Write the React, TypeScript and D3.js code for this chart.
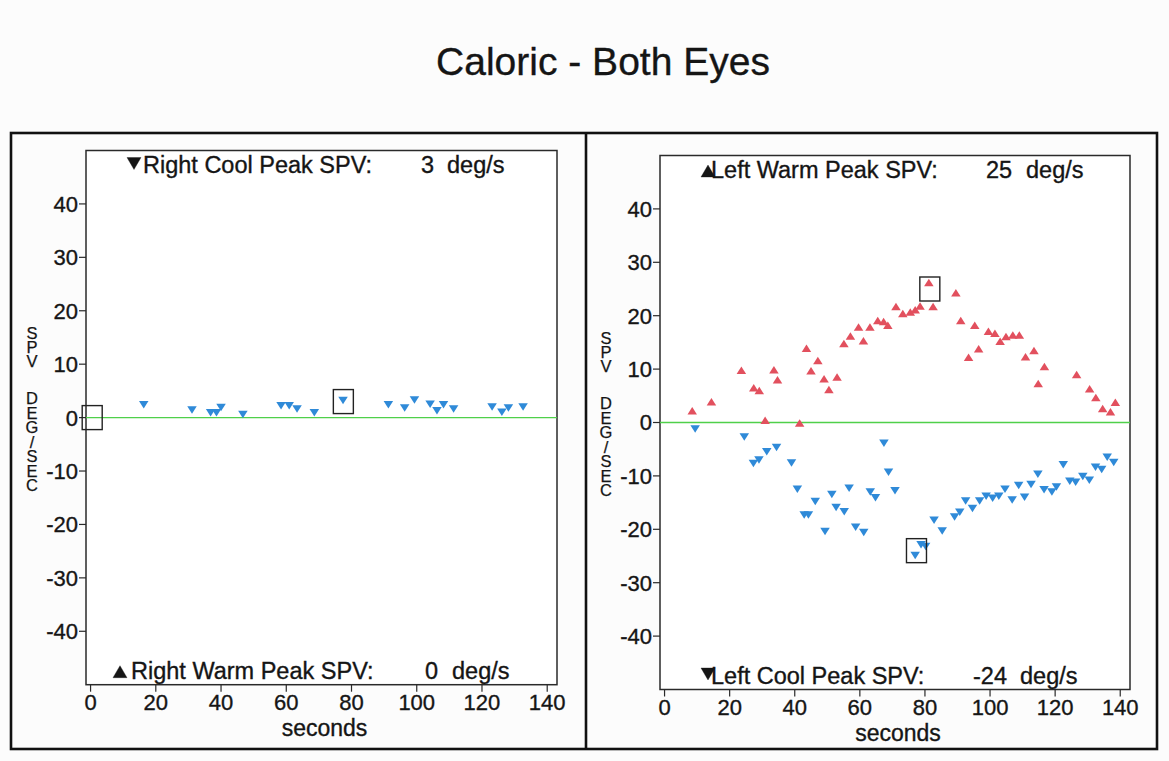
import React from 'react'
import * as d3 from 'd3'

const W = 1169, H = 761
const FONT = '"Liberation Sans", Arial, Helvetica, sans-serif'
const BLUE = '#2f8ad8'
const RED = '#e2505e'
const GREEN = '#4fd04a'
const INK = '#151515'

const xTicks = [0, 20, 40, 60, 80, 100, 120, 140]
const yTicks = [-40, -30, -20, -10, 0, 10, 20, 30, 40]

// right eye, cool irrigation (left panel)
const rightCoolTime = [16.3, 31.1, 36.8, 38.6, 40.0, 46.7, 58.4, 60.9, 63.3, 68.6, 77.4, 91.3, 96.3, 99.3, 104.1, 106.2, 108.2, 111.3, 123.1, 126.1, 128.1, 132.6]
const rightCoolSpv = [2.4, 1.4, 0.9, 0.9, 1.9, 0.6, 2.2, 2.2, 1.6, 0.9, 3.2, 2.4, 1.8, 3.3, 2.5, 1.3, 2.4, 1.6, 2.0, 1.0, 1.8, 2.0]

// left eye, warm irrigation (right panel, red)
const leftWarmTime = [8.5, 14.4, 23.6, 27.4, 29.1, 30.9, 33.6, 34.7, 41.5, 43.6, 45.0, 47.1, 49.0, 50.5, 53.0, 55.1, 57.1, 59.6, 61.1, 63.1, 65.5, 67.3, 68.6, 71.1, 73.2, 75.5, 77.0, 78.5, 81.2, 82.5, 89.5, 91.0, 93.4, 95.3, 96.5, 99.5, 101.5, 103.1, 104.9, 107.0, 109.0, 110.9, 113.5, 114.8, 116.7, 126.6, 130.6, 132.5, 134.6, 137.0, 138.5]
const leftWarmSpv = [2.2, 3.9, 9.8, 6.5, 6.0, 0.4, 9.9, 8.0, -0.1, 13.9, 9.7, 11.6, 8.2, 6.2, 8.5, 14.8, 16.2, 17.9, 15.3, 17.9, 19.1, 18.9, 18.2, 21.7, 20.4, 20.7, 21.1, 21.8, 26.2, 21.7, 24.3, 19.1, 12.2, 18.2, 13.8, 17.1, 16.7, 15.2, 16.1, 16.4, 16.4, 12.3, 13.5, 7.3, 10.5, 9.0, 6.3, 4.7, 2.6, 2.0, 3.8]

// left eye, cool irrigation (right panel, blue)
const leftCoolTime = [9.4, 24.5, 27.3, 29.0, 31.4, 34.4, 39.0, 40.8, 42.9, 44.2, 46.3, 49.3, 51.4, 52.7, 55.2, 56.7, 58.7, 61.2, 63.2, 64.8, 67.4, 68.8, 70.8, 77.0, 78.8, 80.2, 82.8, 85.3, 89.1, 90.7, 92.5, 94.6, 96.8, 98.8, 100.8, 102.7, 104.6, 106.8, 108.8, 110.6, 112.6, 114.7, 116.6, 119.0, 120.4, 122.5, 124.5, 126.3, 128.5, 130.5, 132.4, 134.3, 136.0, 138.0]
const leftCoolSpv = [-1.2, -2.7, -7.7, -7.0, -5.5, -4.7, -7.6, -12.5, -17.3, -17.3, -14.8, -20.4, -13.5, -15.9, -16.7, -12.3, -19.6, -20.6, -13.0, -14.1, -3.9, -9.3, -12.8, -24.9, -22.9, -23.2, -18.3, -20.3, -17.7, -16.8, -14.7, -16.1, -14.7, -13.8, -14.2, -13.8, -12.5, -14.5, -11.8, -14.0, -11.6, -9.7, -12.6, -13.0, -12.1, -7.9, -11.0, -11.2, -10.1, -10.8, -8.4, -8.8, -6.5, -7.5]

// peak values (time, deg/s) as boxed on the plot
const rightCoolPeak = [77.5, 3]
const rightWarmPeak = [0.5, 0]
const leftWarmPeak = [81.5, 25]
const leftCoolPeak = [77.4, -24]

const triPath = (w, h, up) => up
    ? `M0,${-h / 2}L${w / 2},${h / 2}L${-w / 2},${h / 2}Z`
    : `M${-w / 2},${-h / 2}L${w / 2},${-h / 2}L0,${h / 2}Z`

// scanned print looks a bit heavier than the plain font
const inkText = { fontFamily: FONT, fill: INK, stroke: INK, strokeWidth: 0.35 }

const Markers = ({ x, y, time, spv, up, color }) => (
    <g fill={color}>
        {time.map((t, i) => (
            <path key={i} d={triPath(9.5, 7.5, up)} transform={`translate(${x(t)},${y(spv[i])})`} />
        ))}
    </g>
)

const PeakLabel = ({ label, baseline }) => {
    const { up, glyphX, text, textX, value, valueX, unitX } = label
    const gy = up ? baseline - 7 : baseline - 9.5
    return (
        <g {...inkText} fontSize={23.5}>
            <path d={triPath(14, 12, up)} transform={`translate(${glyphX},${gy})`} />
            <text x={textX} y={baseline}>{text}</text>
            <text x={valueX} y={baseline}>{value}</text>
            <text x={unitX} y={baseline}>deg/s</text>
        </g>
    )
}

// letters stacked upright, one word per element
const StackedText = ({ x, y, text, pitch }) => {
    const fs = 16.5
    return (
        <text {...inkText} strokeWidth={0.25} fontSize={fs} x={x} y={y} textAnchor="middle"
            style={{ writingMode: 'vertical-rl', textOrientation: 'upright', letterSpacing: `${pitch - fs}px` }}>
            {text}
        </text>
    )
}

const Panel = ({ box, series, peaks, topLabel, bottomLabel }) => {
    const x = d3.scaleLinear().domain([-1.4, 143]).range([box.left, box.right])
    const y = d3.scaleLinear().domain([-50, 50]).range([box.bottom, box.top])
    const y0 = y(0)
    const axisX = box.left - 53

    return (
        <g>
            <rect x={box.left} y={box.top} width={box.right - box.left} height={box.bottom - box.top}
                fill="#fff" stroke="#2a2a2a" strokeWidth={1.5} />
            <line x1={box.left} x2={box.right} y1={y0} y2={y0} stroke={GREEN} strokeWidth={1.4} />

            {/* y axis */}
            <g>
                {yTicks.map(v => (
                    <g key={v}>
                        <line x1={box.left - 7} x2={box.left} y1={y(v)} y2={y(v)} stroke="#2a2a2a" strokeWidth={1.2} />
                        <text {...inkText} fontSize={22} x={box.left - 8} y={y(v)} dy="0.36em" textAnchor="end">{v}</text>
                    </g>
                ))}
            </g>
            {/* x axis */}
            <g>
                {xTicks.map(t => (
                    <g key={t}>
                        <line x1={x(t)} x2={x(t)} y1={box.bottom} y2={box.bottom + 7} stroke="#2a2a2a" strokeWidth={1.2} />
                        <text {...inkText} fontSize={22} x={x(t)} y={box.bottom + 25.5} textAnchor="middle">{t}</text>
                    </g>
                ))}
                <text {...inkText} fontSize={23} x={(box.left + box.right) / 2 + 3} y={box.bottom + 51.5} textAnchor="middle">seconds</text>
            </g>
            <StackedText x={axisX - 1} y={y0 - 72.6} text="SPV" pitch={12.4} />
            <StackedText x={axisX - 1} y={y0 + 22.4} text="DEG/SEC" pitch={13} />

            {series.map((s, i) => <Markers key={i} x={x} y={y} {...s} />)}

            {peaks.map((p, i) => (
                <rect key={i} x={x(p[0]) - 10} y={y(p[1]) - 12} width={20} height={24}
                    fill="none" stroke="#222" strokeWidth={1.4} />
            ))}

            <PeakLabel label={topLabel} baseline={box.top + 22.5} />
            <PeakLabel label={bottomLabel} baseline={box.bottom - 6} />
        </g>
    )
}

export default function App() {
    const leftBox = { left: 86, right: 557, top: 150.5, bottom: 684.7 }
    const rightBox = { left: 660, right: 1130, top: 155.5, bottom: 689.5 }

    return (
        <svg width={W} height={H} style={{ position: 'absolute', left: 0, top: 0, background: '#fcfcfc' }}>
            <text {...inkText} x={603} y={75} textAnchor="middle" fontSize={39}>
                Caloric - Both Eyes
            </text>

            <rect x={11} y={133} width={1146} height={616} fill="none" stroke="#111" strokeWidth={2.6} />
            <line x1={586} x2={586} y1={133} y2={749} stroke="#111" strokeWidth={2.6} />

            <Panel
                box={leftBox}
                series={[{ time: rightCoolTime, spv: rightCoolSpv, up: false, color: BLUE }]}
                peaks={[rightWarmPeak, rightCoolPeak]}
                topLabel={{ up: false, glyphX: 134, text: 'Right Cool Peak SPV:', textX: 143, value: '3', valueX: 421, unitX: 447 }}
                bottomLabel={{ up: true, glyphX: 120, text: 'Right Warm Peak SPV:', textX: 131, value: '0', valueX: 425, unitX: 452 }}
            />
            <Panel
                box={rightBox}
                series={[
                    { time: leftWarmTime, spv: leftWarmSpv, up: true, color: RED },
                    { time: leftCoolTime, spv: leftCoolSpv, up: false, color: BLUE },
                ]}
                peaks={[leftWarmPeak, leftCoolPeak]}
                topLabel={{ up: true, glyphX: 708, text: 'Left Warm Peak SPV:', textX: 711, value: '25', valueX: 986, unitX: 1026 }}
                bottomLabel={{ up: false, glyphX: 708, text: 'Left Cool Peak SPV:', textX: 711, value: '-24', valueX: 973, unitX: 1020 }}
            />
        </svg>
    )
}
